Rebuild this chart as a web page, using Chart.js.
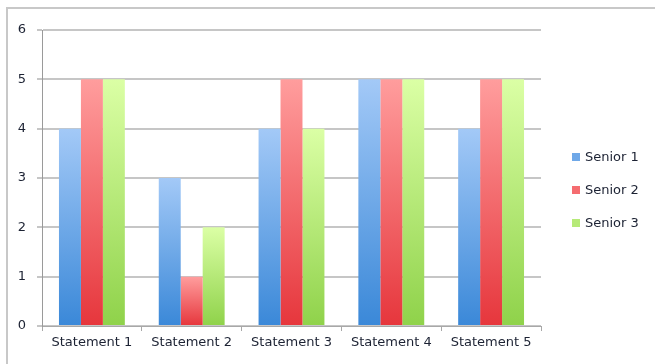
<!DOCTYPE html>
<html>
<head>
<meta charset="utf-8">
<script src="https://cdn.jsdelivr.net/npm/chart.js@4/dist/chart.umd.min.js"></script>
<style>
  html, body { margin: 0; padding: 0; background: #fff; }
  #wrap { position: relative; width: 655px; height: 364px; }
</style>
</head>
<body>
<div id="wrap"><canvas id="chart" width="655" height="364"></canvas></div>
<script>
// Survey answers per statement, one array per senior
const statements = ['Statement 1', 'Statement 2', 'Statement 3', 'Statement 4', 'Statement 5'];
const senior1 = [4, 3, 4, 5, 4];
const senior2 = [5, 1, 5, 5, 5];
const senior3 = [5, 2, 4, 5, 5];
const seriesNames = ['Senior 1', 'Senior 2', 'Senior 3'];
const yTicks = [0, 1, 2, 3, 4, 5, 6];

// top / bottom colour of each bar gradient, plus a flat swatch for the legend
const palette = [
    { top: '#a3c9f7', bottom: '#3a88d8', swatch: '#6fa8e8' },
    { top: '#ff9d9d', bottom: '#e6363c', swatch: '#f56c70' },
    { top: '#dbffa5', bottom: '#8fd24a', swatch: '#b6ea78' }
];

const FONT = '"DejaVu Sans", Verdana, sans-serif';
const TEXT = '#1c2233';

function barFill(p) {
    return ctx => {
        const chart = ctx.chart;
        if (!chart.chartArea || ctx.type !== 'data') return p.swatch;
        const y = chart.scales.y;
        const top = y.getPixelForValue(ctx.raw);
        const bot = y.getPixelForValue(0);
        if (!isFinite(top) || top === bot) return p.swatch;
        const g = chart.ctx.createLinearGradient(0, top, 0, bot);
        g.addColorStop(0, p.top);
        g.addColorStop(1, p.bottom);
        return g;
    };
}

// grey frame along the top and left edge
const framePlugin = {
    id: 'frame',
    beforeDraw(chart) {
        const c = chart.ctx;
        c.save();
        c.strokeStyle = '#c8c8c8';
        c.lineWidth = 2;
        c.beginPath();
        c.moveTo(7, chart.height);
        c.lineTo(7, 8);
        c.lineTo(chart.width, 8);
        c.stroke();
        c.restore();
    }
};

// legend column on the right, built from the datasets
const sideLegend = {
    id: 'sideLegend',
    afterDraw(chart) {
        const c = chart.ctx;
        const x = 572, y0 = 157, step = 33;
        c.save();
        c.font = '13px ' + FONT;
        c.textBaseline = 'middle';
        chart.data.datasets.forEach((ds, i) => {
            const y = y0 + i * step;
            c.fillStyle = palette[i].swatch;
            c.fillRect(x, y - 4, 8, 8);
            c.fillStyle = TEXT;
            c.fillText(ds.label, x + 13, y + 1);
        });
        c.restore();
    }
};

const datasets = [senior1, senior2, senior3].map((data, i) => ({
    label: seriesNames[i],
    data,
    backgroundColor: barFill(palette[i]),
    borderWidth: 0,
    categoryPercentage: 0.66,
    barPercentage: 1.0
}));

new Chart(document.getElementById('chart'), {
    type: 'bar',
    data: { labels: statements, datasets },
    options: {
        responsive: false,
        animation: false,
        layout: { padding: { top: 30, right: 114, left: 0, bottom: 0 } },
        plugins: { legend: { display: false }, tooltip: { enabled: false } },
        scales: {
            x: {
                grid: { display: true, drawOnChartArea: false, offset: true, tickLength: 5, color: '#a8a8a8', lineWidth: 1 },
                border: { color: '#a8a8a8', width: 1 },
                ticks: { color: TEXT, font: { family: FONT, size: 13 }, padding: 4, maxRotation: 0 },
                afterFit(scale) { scale.height = 38; }
            },
            y: {
                min: 0,
                max: 6,
                afterBuildTicks(scale) { scale.ticks = yTicks.map(v => ({ value: v })); },
                grid: { color: '#c6c6c6', lineWidth: 2, tickLength: 5 },
                border: { color: '#9a9a9a', width: 1 },
                ticks: { color: TEXT, font: { family: FONT, size: 13 }, padding: 11 },
                afterFit(scale) { scale.width = 42; }
            }
        }
    },
    plugins: [framePlugin, sideLegend]
});
</script>
</body>
</html>
